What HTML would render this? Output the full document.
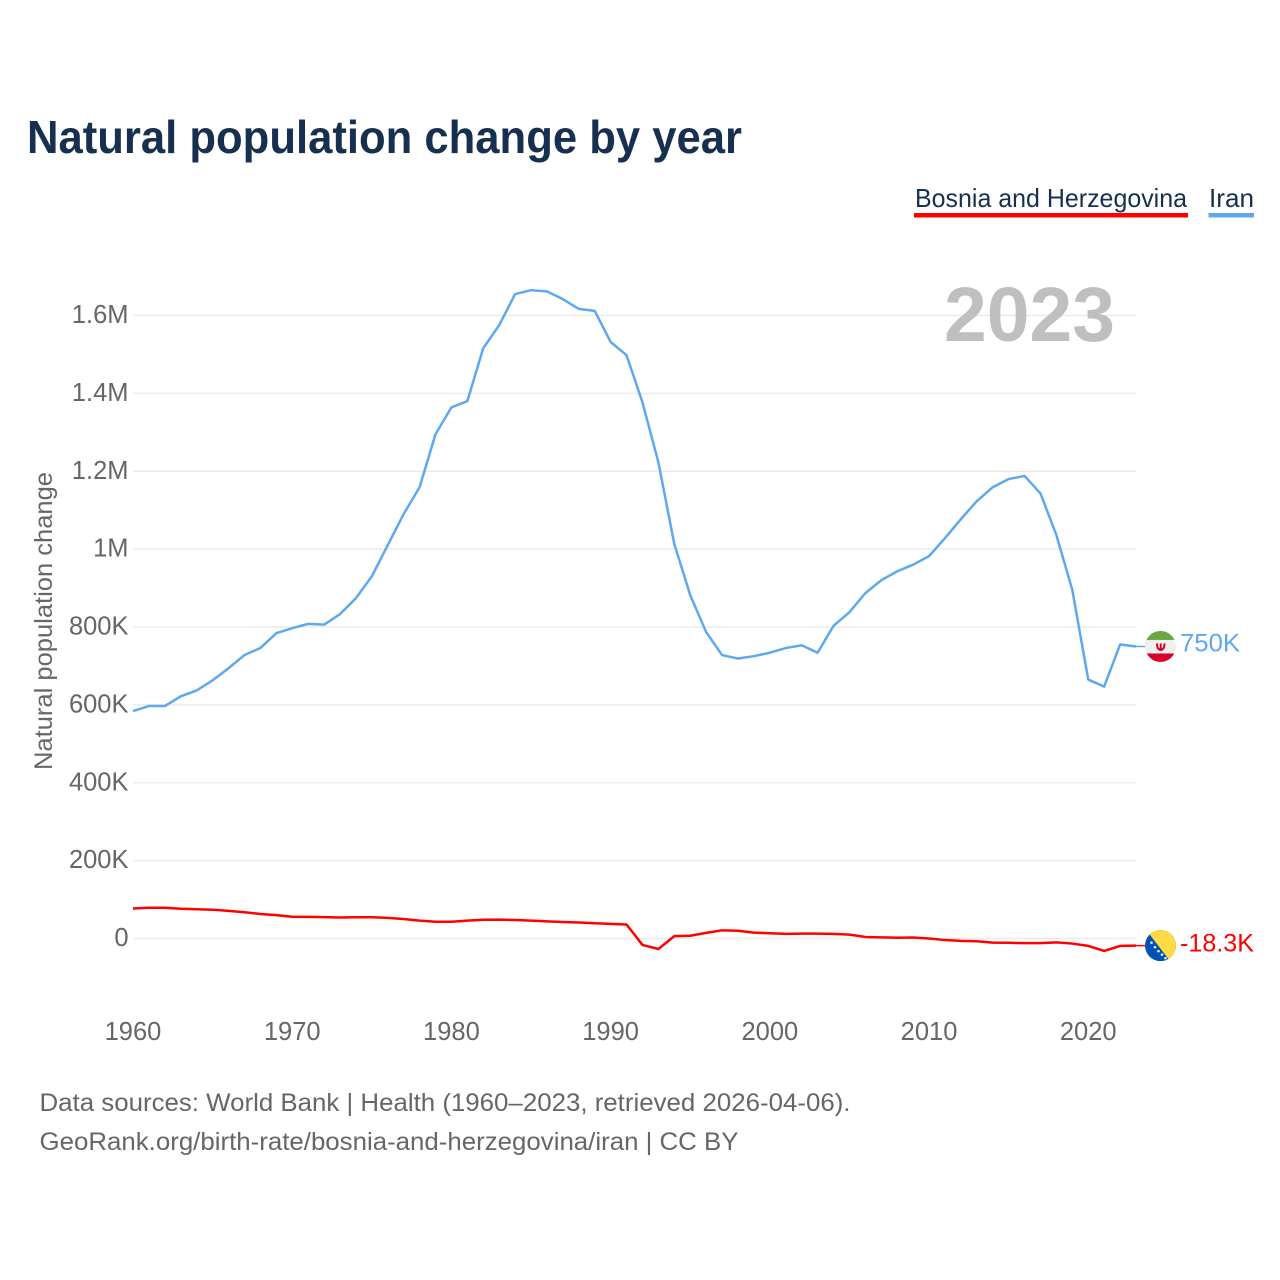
<!DOCTYPE html>
<html lang="en">
<head>
<meta charset="utf-8">
<title>Natural population change by year</title>
<style>
html,body{margin:0;padding:0;background:#fff;width:1280px;height:1280px;overflow:hidden}
svg{display:block;font-family:"Liberation Sans",Arial,sans-serif}
</style>
</head>
<body>
<svg id="chart" xmlns="http://www.w3.org/2000/svg" width="1280" height="1280" viewBox="0 0 1280 1280">
  <rect width="1280" height="1280" fill="#fff"/>
  <text x="27" y="153" font-size="46" font-weight="700" fill="#17304f" textLength="715" lengthAdjust="spacingAndGlyphs">Natural population change by year</text>

  <g>
    <g>
      <text x="915" y="207" font-size="26" fill="#17304f" textLength="272" lengthAdjust="spacingAndGlyphs">Bosnia and Herzegovina</text>
      <rect x="914" y="213" width="274" height="4.5" fill="#ff0000"/>
    </g>
    <g>
      <text x="1209" y="207" font-size="26" fill="#17304f" textLength="45" lengthAdjust="spacingAndGlyphs">Iran</text>
      <rect x="1208.500" y="213" width="45.500" height="4.500" fill="#5fa8ee"/>
    </g>
  </g>

  <g id="grid"></g>
  <text x="1115" y="341" text-anchor="end" font-size="77" font-weight="700" fill="#bfbfbf" textLength="171" lengthAdjust="spacingAndGlyphs">2023</text>
  <g id="yTicks"></g>
  <g id="xTicks"></g>
  <text transform="translate(52 621) rotate(-90)" text-anchor="middle" font-size="25" fill="#666" textLength="298" lengthAdjust="spacingAndGlyphs">Natural population change</text>
  <g id="series"></g>

  <g id="iranEnd">
    <defs>
      <clipPath id="flagClipIran"><circle cx="24.500" cy="0" r="15.500"/></clipPath>
      <clipPath id="flagClipBosnia"><circle cx="24.500" cy="0" r="15.500"/></clipPath>
    </defs>
    <line id="iranConnector" x1="0" y1="0" x2="9" y2="0" stroke="#5fa8ee" stroke-width="1.500"/>
    <g clip-path="url(#flagClipIran)">
      <rect x="9" y="-16" width="31" height="9.500" fill="#6da544"/>
      <rect x="9" y="-6.500" width="31" height="13.500" fill="#f0f0f0"/>
      <rect x="9" y="7" width="31" height="9" fill="#d80027"/>
      <path d="M21 -3 Q21 3 24.700 3.500 Q28.500 3 28.500 -3 M24.700 -3 V4" fill="none" stroke="#d80027" stroke-width="2"/>
    </g>
    <text id="iranLabel" x="44" y="5" font-size="25" fill="#5fa8ee" textLength="60" lengthAdjust="spacingAndGlyphs"></text>
  </g>

  <g id="bosniaEnd">
    <line id="bosniaConnector" x1="0" y1="0" x2="9" y2="0" stroke="#ff0000" stroke-width="1.500"/>
    <g clip-path="url(#flagClipBosnia)">
      <rect x="9" y="-16" width="31" height="32" fill="#0052b4"/>
      <polygon points="13,-12 33,14 42,14 42,-16 13,-16" fill="#ffda44"/>
      <g fill="#f0f0f0">
        <circle cx="15.500" cy="-3" r="1.300"/>
        <circle cx="19" cy="1.500" r="1.300"/>
        <circle cx="22.500" cy="5.500" r="1.300"/>
        <circle cx="26" cy="9" r="1.300"/>
        <circle cx="29.500" cy="12.500" r="1.300"/>
      </g>
    </g>
    <text id="bosniaLabel" x="44" y="6" font-size="25" fill="#ff0000" textLength="74" lengthAdjust="spacingAndGlyphs"></text>
  </g>

  <g font-size="25" fill="#666">
    <text x="39.500" y="1111" textLength="811" lengthAdjust="spacingAndGlyphs">Data sources: World Bank | Health (1960–2023, retrieved 2026-04-06).</text>
    <text x="39.500" y="1150" textLength="699" lengthAdjust="spacingAndGlyphs">GeoRank.org/birth-rate/bosnia-and-herzegovina/iran | CC BY</text>
  </g>
</svg>

<script>
var startYear = 1960;
var iranValues = [584,597,597,622,637,663,694,728,746,784,797,808,806,833,874,930,1010,1090,1159,1295,1364,1380,1516,1575,1655,1665,1662,1642,1617,1612,1532,1498,1377,1223,1013,882,787,728,719,725,734,746,753,734,803,838,887,920,943,960,982,1028,1077,1123,1159,1180,1188,1143,1036,895,665,647,755,750];
var bosniaValues = [77,79,79,76.5,75,74,71,67.5,63,60,56,55.5,55,54,54.5,54.5,53,50,46,43,43,46,48,48.5,47.5,46,44,42.5,41,39,37.5,36,-16.5,-27,6,7,14.5,21,20,15,13.5,12,12.5,12.5,12,10,4,3,2,2.5,0,-4,-6,-7,-10.5,-11,-12,-12,-10,-13,-19,-32,-19,-18.3];
var yTickValues = [0,200,400,600,800,1000,1200,1400,1600];
var yTickLabels = ["0","200K","400K","600K","800K","1M","1.2M","1.4M","1.6M"];
var xTickValues = [1960,1970,1980,1990,2000,2010,2020];
var iranEndLabel = "750K";
var bosniaEndLabel = "-18.3K";

var NS = 'http://www.w3.org/2000/svg';
function xScale(year){ return 133 + (year - 1960) * (1136 - 133) / 63; }
function yScale(v){ return 938.5 - v * 77.875 / 200; }

var gridGroup = document.getElementById('grid');
var yGroup = document.getElementById('yTicks');
yTickValues.forEach(function(v, i){
  var line = document.createElementNS(NS, 'line');
  
  
  line.setAttribute('x1', 133);
  line.setAttribute('x2', 1136);
  line.setAttribute('y1', yScale(v));
  line.setAttribute('y2', yScale(v));
  line.setAttribute('stroke', '#ebebeb');
  line.setAttribute('stroke-width', '1.500');
  gridGroup.appendChild(line);

  var t = document.createElementNS(NS, 'text');
  
  
  t.setAttribute('x', 128.500);
  t.setAttribute('y', yScale(v) + 7.500);
  t.setAttribute('text-anchor', 'end');
  t.setAttribute('font-size', '25.500');
  t.setAttribute('fill', '#666');
  t.textContent = yTickLabels[i];
  yGroup.appendChild(t);
});

var xGroup = document.getElementById('xTicks');
xTickValues.forEach(function(year){
  var t = document.createElementNS(NS, 'text');
  
  
  t.setAttribute('x', xScale(year));
  t.setAttribute('y', 1040);
  t.setAttribute('text-anchor', 'middle');
  t.setAttribute('font-size', '25.500');
  t.setAttribute('fill', '#666');
  t.textContent = year;
  xGroup.appendChild(t);
});

function pointsFor(values){
  return values.map(function(v, i){
    return xScale(startYear + i).toFixed(2) + ',' + yScale(v).toFixed(2);
  }).join(' ');
}

var seriesGroup = document.getElementById('series');
var iranLine = document.createElementNS(NS, 'polyline');


iranLine.setAttribute('points', pointsFor(iranValues));
iranLine.setAttribute('fill', 'none');
iranLine.setAttribute('stroke', '#5fa8ee');
iranLine.setAttribute('stroke-width', '2.500');
iranLine.setAttribute('stroke-linejoin', 'round');
seriesGroup.appendChild(iranLine);

var bosniaLine = document.createElementNS(NS, 'polyline');


bosniaLine.setAttribute('points', pointsFor(bosniaValues));
bosniaLine.setAttribute('fill', 'none');
bosniaLine.setAttribute('stroke', '#ff0000');
bosniaLine.setAttribute('stroke-width', '2.500');
bosniaLine.setAttribute('stroke-linejoin', 'round');
seriesGroup.appendChild(bosniaLine);

var lastX = xScale(startYear + iranValues.length - 1);
document.getElementById('iranEnd').setAttribute('transform', 'translate(' + lastX + ' ' + yScale(iranValues[iranValues.length - 1]) + ')');
document.getElementById('bosniaEnd').setAttribute('transform', 'translate(' + lastX + ' ' + yScale(bosniaValues[bosniaValues.length - 1]) + ')');
document.getElementById('iranLabel').textContent = iranEndLabel;
document.getElementById('bosniaLabel').textContent = bosniaEndLabel;
</script>
</body>
</html>
